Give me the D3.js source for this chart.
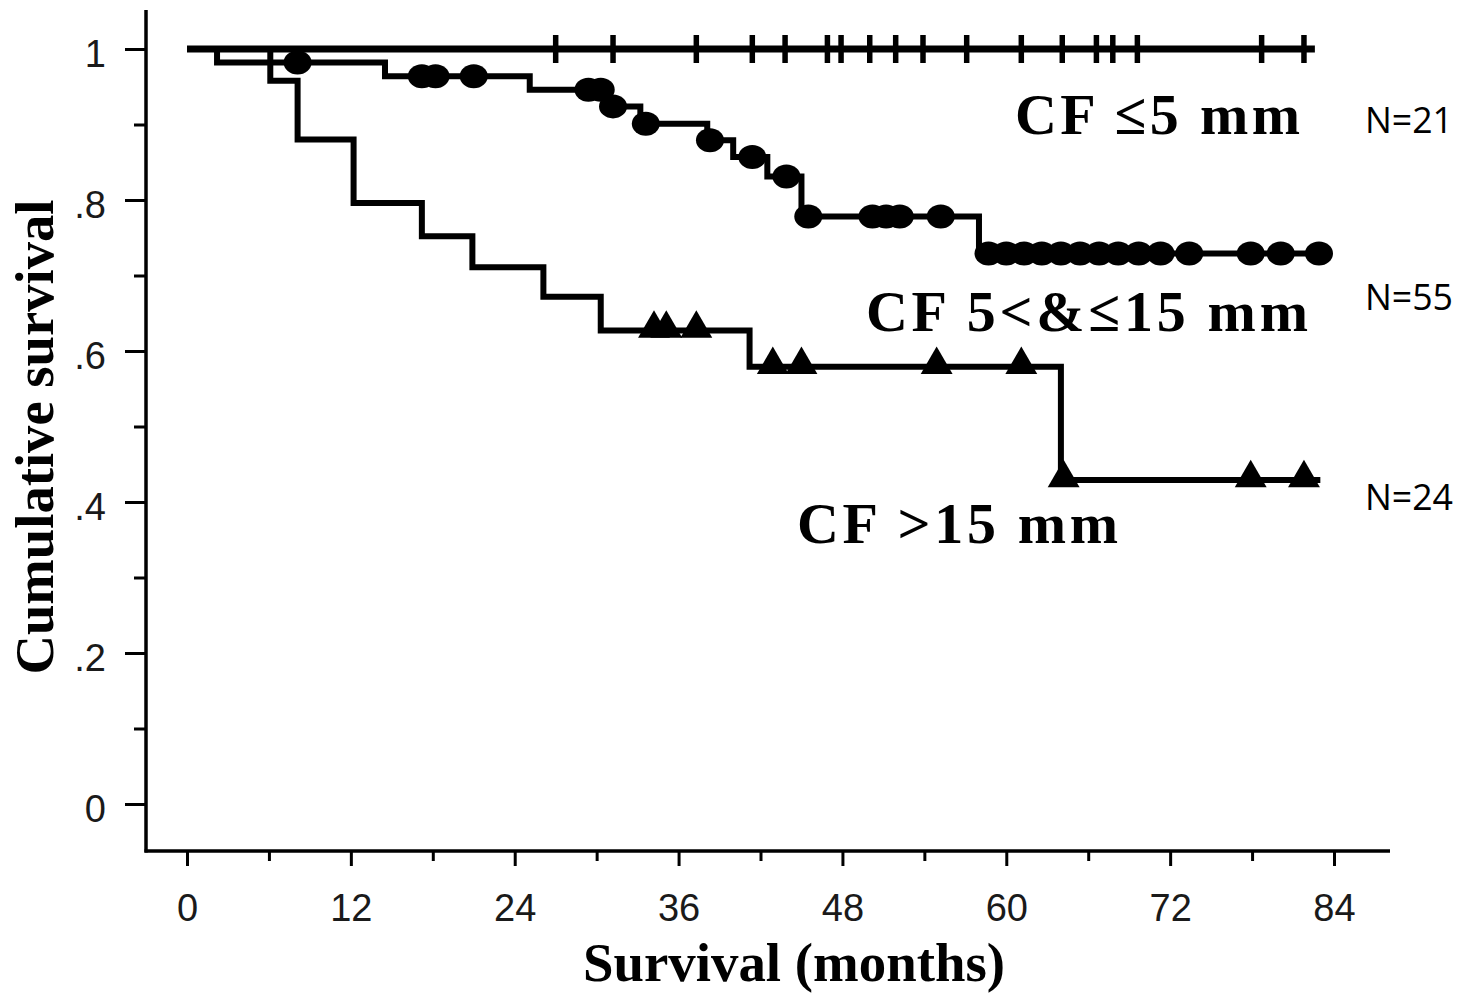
<!DOCTYPE html>
<html><head><meta charset="utf-8">
<script src="https://cdn.jsdelivr.net/npm/d3@7"></script>
<style>body{margin:0;background:#fff}svg{display:block}</style>
</head><body><svg id="c" width="1465" height="993"></svg>
<script>
// ---- data ----
const xTickValues = [0, 12, 24, 36, 48, 60, 72, 84];
const xMinorTicks = [6, 18, 30, 42, 54, 66, 78];
const yTickValues = [0, 0.2, 0.4, 0.6, 0.8, 1];
const yTickLabels = ["0", ".2", ".4", ".6", ".8", "1"];
const yMinorTicks = [0.1, 0.3, 0.5, 0.7, 0.9];

// CF <=5 mm (N=21): no events, censored marks
const lowTimes = [0];
const lowSurv = [1];
const lowEnd = 82.6;
const lowCensor = [27.0, 31.2, 37.3, 41.4, 43.8, 46.9, 47.9, 50.0, 51.9, 53.9, 57.1, 61.1, 64.1, 66.6, 67.8, 69.6, 78.7, 81.8];

// CF 5<&<=15 mm (N=55)
const midTimes = [0, 2.2, 14.5, 25.1, 30.7, 33.2, 38.1, 40.0, 42.5, 45.0, 58.0];
const midSurv = [1, 0.982, 0.964, 0.946, 0.924, 0.901, 0.879, 0.857, 0.831, 0.778, 0.729];
const midEnd = 83.0;
const midCensor = [8.1, 17.2, 18.2, 21.0, 29.4, 30.3, 31.2, 33.6, 38.3, 41.4, 43.9, 45.5,
  50.2, 51.2, 52.2, 55.2, 58.7, 60.0, 61.3, 62.6, 64.0, 65.4, 66.8, 68.2, 69.7, 71.3, 73.4,
  77.9, 80.1, 82.9];

// CF >15 mm (N=24)
const highTimes = [0, 6.1, 8.1, 12.2, 17.2, 20.9, 26.1, 30.3, 41.2, 64.0];
const highSurv = [1, 0.958, 0.88, 0.796, 0.752, 0.711, 0.672, 0.627, 0.579, 0.429];
const highEnd = 83.0;
const highCensor = [34.2, 35.1, 37.3, 42.9, 45.0, 54.9, 61.1, 64.2, 77.9, 81.8];

const groupLabels = ["CF \u22645 mm", "CF 5<&\u226415 mm", "CF >15 mm"];
const groupN = ["N=21", "N=55", "N=24"];

// ---- layout ----
const svg = d3.select("#c");
svg.append("rect").attr("width", 1465).attr("height", 993).attr("fill", "#fff");
const x = d3.scaleLinear().domain([0, 84]).range([187, 1334]);
const y = d3.scaleLinear().domain([0, 1]).range([804, 49]);
const axisX0 = 146, axisY0 = 851;

// axes lines
svg.append("line").attr("x1", axisX0).attr("x2", axisX0).attr("y1", 10).attr("y2", axisY0 + 1.5)
  .attr("stroke", "#000").attr("stroke-width", 3.5);
svg.append("line").attr("x1", axisX0 - 1.5).attr("x2", 1390).attr("y1", axisY0).attr("y2", axisY0)
  .attr("stroke", "#000").attr("stroke-width", 3.5);

// y axis
const gy = svg.append("g").attr("transform", `translate(${axisX0},0)`)
  .call(d3.axisLeft(y).tickValues(yTickValues).tickSize(21).tickPadding(19)
    .tickFormat((d, i) => yTickLabels[i]));
gy.select(".domain").remove();
gy.selectAll("line").attr("stroke", "#000").attr("stroke-width", 3);
gy.selectAll("text").attr("font-family", "Liberation Sans, Arial, sans-serif").attr("font-size", 38)
  .attr("fill", "#1a1a1a").attr("dy", "0.47em");
const gym = svg.append("g").attr("transform", `translate(${axisX0},0)`)
  .call(d3.axisLeft(y).tickValues(yMinorTicks).tickSize(12).tickFormat(""));
gym.select(".domain").remove();
gym.selectAll("line").attr("stroke", "#000").attr("stroke-width", 3);

// x axis
const gx = svg.append("g").attr("transform", `translate(0,${axisY0})`)
  .call(d3.axisBottom(x).tickValues(xTickValues).tickSize(15).tickPadding(28).tickFormat(d3.format("d")));
gx.select(".domain").remove();
gx.selectAll("line").attr("stroke", "#000").attr("stroke-width", 3);
gx.selectAll("text").attr("font-family", "Liberation Sans, Arial, sans-serif").attr("font-size", 38).attr("fill", "#1a1a1a");
const gxm = svg.append("g").attr("transform", `translate(0,${axisY0})`)
  .call(d3.axisBottom(x).tickValues(xMinorTicks).tickSize(10).tickFormat(""));
gxm.select(".domain").remove();
gxm.selectAll("line").attr("stroke", "#000").attr("stroke-width", 3);

// axis titles
const serif = "Liberation Serif, Times New Roman, serif";
svg.append("text").attr("x", 794).attr("y", 981).attr("text-anchor", "middle")
  .attr("font-family", serif).attr("font-weight", "bold").attr("font-size", 55)
  .attr("textLength", 422).attr("lengthAdjust", "spacingAndGlyphs")
  .text("Survival (months)");
svg.append("text").attr("transform", "translate(53,437) rotate(-90)").attr("text-anchor", "middle")
  .attr("font-family", serif).attr("font-weight", "bold").attr("font-size", 55)
  .attr("textLength", 475).attr("lengthAdjust", "spacingAndGlyphs")
  .text("Cumulative survival");

// ---- curves ----
const line = d3.line().x(d => x(d[0])).y(d => y(d[1])).curve(d3.curveStepAfter);
function pts(times, surv, end) {
  const p = times.map((t, i) => [t, surv[i]]);
  p.push([end, surv[surv.length - 1]]);
  return p;
}
function survAt(times, surv, t) {
  return surv[Math.max(0, d3.bisectRight(times, t) - 1)];
}

svg.append("path").attr("d", line(pts(highTimes, highSurv, highEnd)))
  .attr("fill", "none").attr("stroke", "#000").attr("stroke-width", 6).attr("stroke-linejoin", "miter");
svg.append("path").attr("d", line(pts(midTimes, midSurv, midEnd)))
  .attr("fill", "none").attr("stroke", "#000").attr("stroke-width", 6).attr("stroke-linejoin", "miter");
svg.append("path").attr("d", line(pts(lowTimes, lowSurv, lowEnd)))
  .attr("fill", "none").attr("stroke", "#000").attr("stroke-width", 7);

// censor marks
svg.append("g").selectAll("line").data(lowCensor).join("line")
  .attr("x1", d => x(d)).attr("x2", d => x(d))
  .attr("y1", d => y(survAt(lowTimes, lowSurv, d)) - 14)
  .attr("y2", d => y(survAt(lowTimes, lowSurv, d)) + 14)
  .attr("stroke", "#000").attr("stroke-width", 5.5);

svg.append("g").selectAll("ellipse").data(midCensor).join("ellipse")
  .attr("cx", d => x(d)).attr("cy", d => y(survAt(midTimes, midSurv, d)))
  .attr("rx", 14).attr("ry", 12).attr("fill", "#000");

const tri = d3.symbol().type(d3.symbolTriangle).size(440);
svg.append("g").selectAll("path").data(highCensor).join("path")
  .attr("d", tri)
  .attr("transform", d => `translate(${x(d)},${y(survAt(highTimes, highSurv, d)) - 2})`)
  .attr("fill", "#000");

// ---- labels ----
const labelPos = [[1015, 134, 285], [866, 331, 442], [797, 543, 321]];
groupLabels.forEach((t, i) => {
  svg.append("text").attr("x", labelPos[i][0]).attr("y", labelPos[i][1])
    .attr("font-family", serif).attr("font-weight", "bold").attr("font-size", 58)
    .attr("textLength", labelPos[i][2]).attr("lengthAdjust", "spacing")
    .text(t);
});
const nPos = [133, 310, 510];
groupN.forEach((t, i) => {
  svg.append("text").attr("x", 1365).attr("y", nPos[i])
    .attr("font-family", "Open Sans, Liberation Sans, sans-serif").attr("font-size", 37)
    .attr("textLength", 88).attr("lengthAdjust", "spacingAndGlyphs")
    .text(t);
});
</script></body></html>
